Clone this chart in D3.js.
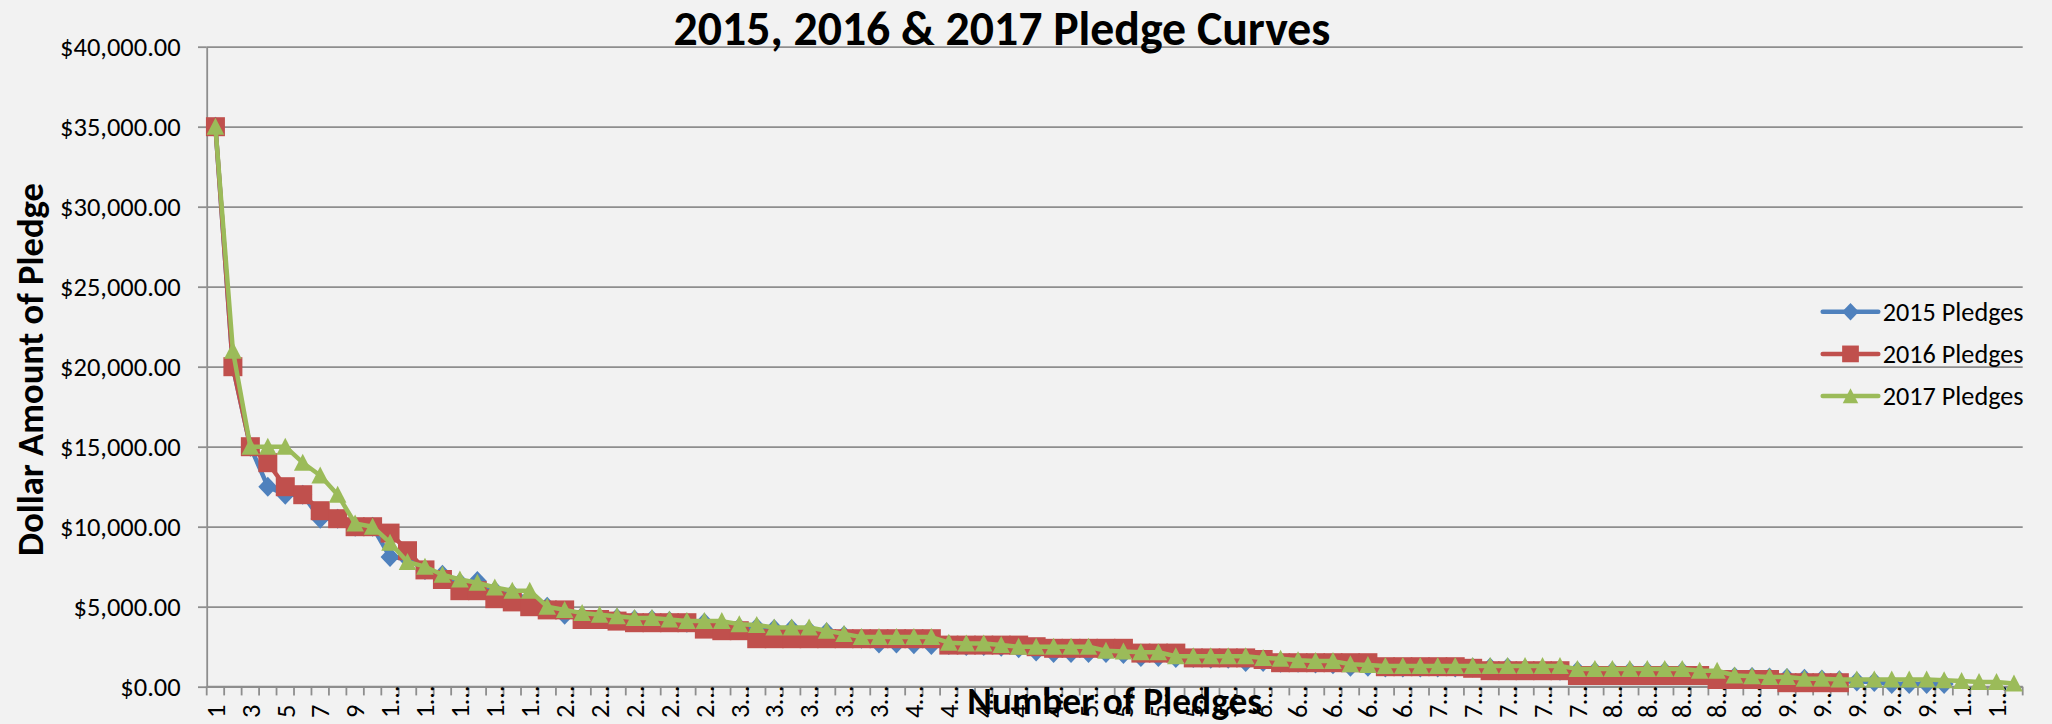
<!DOCTYPE html>
<html>
<head>
<meta charset="utf-8">
<script src="https://cdn.jsdelivr.net/npm/d3@7"></script>
<style>
  html, body { margin: 0; padding: 0; background: #f2f2f2; }
  svg { display: block; font-family: Carlito, Lato, sans-serif; }
</style>
</head>
<body>
<div id="chart"></div>
<script>
// pledge amounts, sorted high to low
var categories = d3.range(1, 105);

var pledges2015 = [
  35000, 20000, 15000, 12500, 12000, 12000, 10500, 10500, 10000, 10000,
  8100, 8000, 7300, 7000, 6500, 6600, 6000, 5800, 5500, 5000,
  4500, 4400, 4300, 4300, 4200, 4200, 4100, 4000, 4000, 3800,
  3700, 3700, 3600, 3600, 3500, 3400, 3200, 3000, 2700, 2700,
  2650, 2600, 2600, 2550, 2550, 2500, 2400, 2200, 2100, 2100,
  2100, 2100, 2050, 1850, 1850, 1800, 1800, 1750, 1750, 1550,
  1550, 1500, 1500, 1450, 1400, 1250, 1250, 1200, 1200, 1200,
  1200, 1200, 1200, 1200, 1200, 1100, 1050, 1000, 980, 950,
  950, 950, 950, 950, 950, 800, 650, 620, 600, 580,
  550, 500, 450, 400, 320, 300, 170, 170, 170, 170
];

var pledges2016 = [
  35000, 20000, 15000, 14000, 12500, 12000, 11000, 10500, 10000, 10000,
  9600, 8500, 7300, 6700, 6000, 6000, 5500, 5300, 5000, 4800,
  4800, 4200, 4200, 4100, 4000, 4000, 4000, 4000, 3600, 3500,
  3500, 3000, 3000, 3000, 3000, 3000, 3000, 3000, 3000, 3000,
  3000, 3000, 2600, 2600, 2600, 2600, 2600, 2500, 2400, 2400,
  2400, 2400, 2400, 2100, 2100, 2100, 1800, 1800, 1800, 1800,
  1700, 1500, 1500, 1500, 1500, 1500, 1500, 1250, 1250, 1250,
  1250, 1250, 1150, 1000, 1000, 1000, 1000, 1000, 700, 700,
  700, 700, 700, 700, 700, 700, 450, 450, 450, 450,
  250, 250, 250, 250
];

var pledges2017 = [
  35000, 21000, 15000, 15000, 15000, 14000, 13200, 12000, 10200, 10000,
  9000, 7800, 7500, 7000, 6700, 6500, 6200, 6000, 6000, 5000,
  4800, 4600, 4500, 4400, 4300, 4300, 4200, 4100, 4100, 4100,
  3900, 3850, 3700, 3700, 3700, 3500, 3300, 3100, 3100, 3100,
  3100, 3100, 2750, 2700, 2700, 2600, 2500, 2500, 2500, 2500,
  2500, 2250, 2200, 2150, 2150, 1900, 1900, 1900, 1900, 1900,
  1800, 1750, 1650, 1600, 1600, 1400, 1350, 1300, 1300, 1300,
  1300, 1300, 1300, 1300, 1300, 1300, 1300, 1300, 1100, 1100,
  1100, 1100, 1100, 1100, 1100, 1000, 1000, 700, 650, 600,
  600, 500, 500, 450, 450, 450, 450, 450, 450, 400,
  350, 300, 300, 200
];

var seriesNames = ["2015 Pledges", "2016 Pledges", "2017 Pledges"];
var seriesColors = ["#4f81bd", "#c0504d", "#9bbb59"];
var yTicks = [0, 5000, 10000, 15000, 20000, 25000, 30000, 35000, 40000];

var series = [pledges2015, pledges2016, pledges2017].map(function(vals, k) {
  return {
    name: seriesNames[k],
    color: seriesColors[k],
    values: vals.map(function(v, i) { return { cat: categories[i], value: v }; })
  };
});

var svgWidth = 2052, svgHeight = 724;
var plot = { left: 206.7, right: 2022.7, top: 46.7, bottom: 686.7 };
var gridColor = "#8e8e8e";

var svg = d3.select("#chart").append("svg")
  .attr("width", svgWidth)
  .attr("height", svgHeight);

svg.append("rect")
  .attr("width", svgWidth)
  .attr("height", svgHeight)
  .attr("fill", "#f2f2f2");

// scales
var xScale = d3.scaleBand()
  .domain(categories)
  .range([plot.left, plot.right]);

var yScale = d3.scaleLinear()
  .domain([0, 40000])
  .range([plot.bottom, plot.top]);

// shrink/grow a text until it has the wanted width
function fitWidth(sel, target) {
  var len = sel.node().getComputedTextLength();
  var fs = parseFloat(sel.style("font-size"));
  var size = fs * target / len;
  sel.style("font-size", size + "px");
  return size;
}

// gridlines
var grid = svg.append("g")
  .attr("transform", `translate(${plot.left},0)`)
  .call(d3.axisLeft(yScale).tickValues(yTicks).tickSize(-(plot.right - plot.left)).tickFormat(""));
grid.select(".domain").remove();
grid.selectAll("line").attr("stroke", gridColor).attr("stroke-width", 1.8);

// y axis with tick labels
var yAxis = svg.append("g")
  .attr("transform", `translate(${plot.left},0)`)
  .call(d3.axisLeft(yScale)
    .tickValues(yTicks)
    .tickSize(8.7)
    .tickSizeOuter(0)
    .tickPadding(17.3)
    .tickFormat(d3.format("$,.2f")));
yAxis.select(".domain").attr("stroke", gridColor).attr("stroke-width", 1.8);
yAxis.selectAll("line").attr("stroke", gridColor).attr("stroke-width", 1.8);
yAxis.selectAll("text")
  .attr("fill", "#000")
  .style("font-family", "Carlito, Lato, sans-serif")
  .style("font-size", "24px");

var widest = yAxis.selectAll("text").filter(function(d) { return d === 40000; });
var tickFont = fitWidth(widest, 120.7);
yAxis.selectAll("text").style("font-size", tickFont + "px");

// x axis: tick marks on category boundaries
var bounds = categories.map(function(c) { return xScale(c); }).concat([xScale.range()[1]]);
var xTickG = svg.append("g");
xTickG.append("line")
  .attr("x1", plot.left).attr("x2", plot.right)
  .attr("y1", plot.bottom).attr("y2", plot.bottom)
  .attr("stroke", gridColor).attr("stroke-width", 1.8);
xTickG.selectAll(".xtick")
  .data(bounds)
  .enter()
  .append("line")
  .attr("x1", d => d).attr("x2", d => d)
  .attr("y1", plot.bottom).attr("y2", plot.bottom + 8.7)
  .attr("stroke", gridColor).attr("stroke-width", 1.8);

// x labels, every other category, truncated like Excel does
var xLabels = svg.append("g")
  .attr("transform", `translate(0,${plot.bottom})`)
  .call(d3.axisBottom(xScale)
    .tickValues(categories.filter(c => c % 2 === 1))
    .tickSize(0)
    .tickFormat(c => c < 10 ? String(c) : String(c)[0] + "\u2026"));
xLabels.select(".domain").remove();
xLabels.selectAll("text")
  .attr("fill", "#000")
  .attr("transform", "rotate(-90)")
  .attr("x", -31.3)
  .attr("y", 0)
  .attr("dy", "0.35em")
  .style("text-anchor", "start")
  .style("font-family", "Carlito, Lato, sans-serif")
  .style("font-size", tickFont + "px");

// lines and markers
var line = d3.line()
  .x(d => xScale(d.cat) + xScale.bandwidth() / 2)
  .y(d => yScale(d.value));

function markerPath(k, s) {
  if (k === 0) return `M0,${-10 * s}L${9.5 * s},0L0,${10 * s}L${-9.5 * s},0Z`;
  if (k === 1) return `M${-9.5 * s},${-9.5 * s}H${9.5 * s}V${9.5 * s}H${-9.5 * s}Z`;
  return `M0,${-9 * s}L${8.8 * s},${8 * s}L${-8.8 * s},${8 * s}Z`;
}

series.forEach(function(s, k) {
  var g = svg.append("g");
  g.append("path")
    .datum(s.values)
    .attr("d", line)
    .attr("fill", "none")
    .attr("stroke", s.color)
    .attr("stroke-width", 4.5)
    .attr("stroke-linejoin", "round");
  g.selectAll(".marker")
    .data(s.values)
    .enter()
    .append("path")
    .attr("d", markerPath(k, 1))
    .attr("transform", d => `translate(${xScale(d.cat) + xScale.bandwidth() / 2},${yScale(d.value)})`)
    .attr("fill", s.color);
});

// legend
var legend = svg.append("g");
series.forEach(function(s, k) {
  var ly = 311.7 + 42.2 * k;
  legend.append("line")
    .attr("x1", 1822.7).attr("x2", 1878.3)
    .attr("y1", ly).attr("y2", ly)
    .attr("stroke", s.color)
    .attr("stroke-width", 4.5)
    .attr("stroke-linecap", "round");
  legend.append("path")
    .attr("d", markerPath(k, 0.88))
    .attr("transform", `translate(1850.5,${ly})`)
    .attr("fill", s.color);
  var t = legend.append("text")
    .attr("x", 1882.7)
    .attr("y", ly)
    .attr("dy", "0.35em")
    .style("font-size", "24px")
    .text(s.name);
  fitWidth(t, 141);
});

// titles
var title = svg.append("text")
  .attr("x", 1002)
  .attr("y", 45)
  .attr("text-anchor", "middle")
  .style("font-weight", "bold")
  .style("font-size", "44px")
  .text("2015, 2016 & 2017 Pledge Curves");
fitWidth(title, 657);

var yTitle = svg.append("text")
  .attr("transform", "translate(43,369.5) rotate(-90)")
  .attr("text-anchor", "middle")
  .style("font-weight", "bold")
  .style("font-size", "34px")
  .text("Dollar Amount of Pledge");
fitWidth(yTitle, 373);

var xTitle = svg.append("text")
  .attr("x", (plot.left + plot.right) / 2)
  .attr("y", 714)
  .attr("text-anchor", "middle")
  .style("font-weight", "bold")
  .style("font-size", "34px")
  .text("Number of Pledges");
fitWidth(xTitle, 295);
</script>
</body>
</html>
